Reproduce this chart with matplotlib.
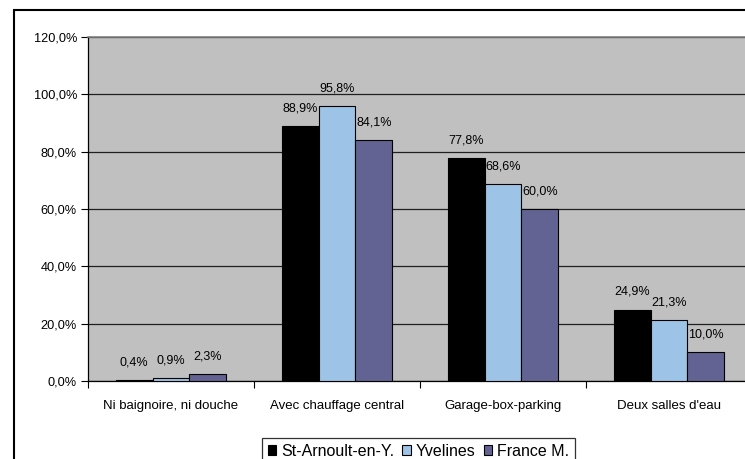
import matplotlib.pyplot as plt
import numpy as np
from matplotlib.patches import Rectangle
from matplotlib.ticker import FuncFormatter, FixedLocator

plt.rcParams['font.family'] = ['Liberation Sans', 'DejaVu Sans']

categories = ['Ni baignoire, ni douche', 'Avec chauffage central',
              'Garage-box-parking', "Deux salles d'eau"]
series_names = ['St-Arnoult-en-Y.', 'Yvelines', 'France M.']
st_arnoult = [0.4, 88.9, 77.8, 24.9]
yvelines = [0.9, 95.8, 68.6, 21.3]
france = [2.3, 84.1, 60.0, 10.0]
colors = ['#000000', '#9DC3E6', '#636393']

fig = plt.figure(figsize=(7.45, 4.59), dpi=100)
# outer chart frame (cropped on the right and bottom)
fig.patches.append(Rectangle((14 / 745, -0.2), 1.2, 1 - 10 / 459 + 0.2,
                             transform=fig.transFigure, fill=False,
                             edgecolor='black', linewidth=1.5))

ax = fig.add_axes([88 / 745, 1 - 381 / 459, 664 / 745, 344 / 459])
ax.set_facecolor('#C0C0C0')

x = np.arange(len(categories))
w = 1 / 4.5
for i, (vals, name, col) in enumerate(zip([st_arnoult, yvelines, france], series_names, colors)):
    bars = ax.bar(x + (i - 1) * w, vals, w, color=col, edgecolor='black',
                  linewidth=0.8, label=name, zorder=3)
    for b, v in zip(bars, vals):
        ax.annotate(f'{v:.1f}%'.replace('.', ','),
                    (b.get_x() + b.get_width() / 2, v),
                    xytext=(0, 8.5), textcoords='offset points',
                    ha='center', va='bottom', fontsize=9)

ax.set_xlim(-0.5, len(categories) - 0.5)
ax.set_ylim(0, 120)
ax.set_yticks(np.arange(0, 121, 20))
ax.yaxis.set_major_formatter(FuncFormatter(lambda v, p: f'{v:.1f}%'.replace('.', ',')))
ax.grid(axis='y', color='#202020', linewidth=0.9, zorder=1)
ax.set_axisbelow(True)

ax.xaxis.set_major_locator(FixedLocator(np.arange(-0.5, len(categories), 1)))
ax.xaxis.set_major_formatter(FuncFormatter(lambda v, p: ''))
ax.set_xticks(x, minor=True)
ax.set_xticklabels(categories, minor=True, fontsize=9.5)
ax.tick_params(axis='x', which='minor', length=0, pad=14)
ax.tick_params(axis='x', which='major', length=5, width=0.8)
ax.tick_params(axis='y', length=5, width=0.8, labelsize=9.2, pad=3)

ax.spines['top'].set_color('#808080')
ax.spines['top'].set_linewidth(1.2)
ax.spines['right'].set_visible(False)
ax.spines['left'].set_linewidth(0.9)
ax.spines['bottom'].set_linewidth(0.9)

leg = fig.legend(loc='lower left', bbox_to_anchor=(262 / 745, -0.012), ncol=3,
                 fontsize=11.5, frameon=True, fancybox=False, edgecolor='black',
                 handlelength=0.55, handleheight=0.55, handletextpad=0.3,
                 columnspacing=0.5, borderpad=0.35, borderaxespad=0)
leg.get_frame().set_linewidth(0.9)

fig.savefig('out.png', dpi=100)
